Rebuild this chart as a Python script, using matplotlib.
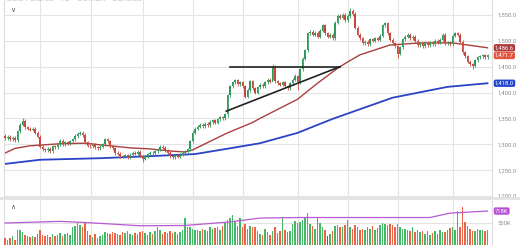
import matplotlib
matplotlib.use("Agg")
import matplotlib.pyplot as plt
import matplotlib.transforms as mtransforms
import numpy as np

plt.rcParams["font.family"] = ["Roboto", "DejaVu Sans"]

# daily closes (gold)
closes = [
    1312, 1315, 1310, 1313, 1308, 1325, 1338, 1345, 1333, 1330,
    1328, 1330, 1322, 1315, 1295, 1290, 1288, 1291, 1287, 1296,
    1294, 1300, 1307, 1300, 1304, 1302, 1306, 1310, 1316, 1320,
    1322, 1318, 1304, 1297, 1296, 1299, 1294, 1292, 1295, 1300,
    1310, 1306, 1296, 1292, 1283, 1282, 1277, 1276, 1279, 1274,
    1280, 1284, 1282, 1285, 1278, 1272, 1277, 1281, 1284, 1283,
    1286, 1290, 1295, 1293, 1288, 1284, 1277, 1275, 1279, 1276,
    1280, 1283, 1286, 1290, 1306, 1322, 1330, 1334, 1338, 1335,
    1340, 1337, 1343, 1346, 1342, 1348, 1352, 1350, 1358, 1395,
    1412, 1420, 1424, 1416, 1420, 1412, 1392, 1405, 1422, 1408,
    1400, 1410, 1415, 1412, 1420, 1425, 1421, 1450, 1422, 1418,
    1415, 1420, 1412, 1408, 1418, 1425, 1432, 1420, 1445, 1465,
    1482, 1515, 1518, 1512, 1516, 1508, 1520, 1530, 1515, 1508,
    1512, 1505, 1535, 1548, 1545, 1550, 1540, 1548, 1558, 1552,
    1525, 1512, 1505, 1495, 1498, 1494, 1503, 1500, 1505, 1502,
    1510, 1530, 1534, 1515, 1502, 1495, 1490, 1475, 1488, 1503,
    1508, 1512, 1505, 1508, 1500, 1492, 1495, 1490, 1496, 1492,
    1497, 1494, 1500, 1496, 1502, 1512, 1495, 1497, 1494, 1510,
    1515, 1512, 1498, 1478, 1470, 1460, 1455, 1452, 1462, 1468,
    1470, 1472, 1468, 1471.7,
]
first_open = 1316

# notable wick extremes {index: (high, low)}
wick_extremes = {7: (1351, 1336), 55: (1280, 1265), 89: (1398, 1352),
                 107: (1456, 1424), 138: (1563, 1545), 157: (1492, 1466),
                 187: (1458, 1446), 117: (1434, 1405)}

# volume in thousands
volumes = [
    220, 190, 230, 260, 200, 370, 380, 340, 290, 260,
    250, 270, 240, 300, 370, 290, 260, 280, 250, 300,
    270, 290, 310, 260, 300, 320, 280, 430, 450, 500,
    470, 420, 520, 350, 280, 250, 300, 230, 260, 290,
    330, 310, 300, 340, 320, 300, 290, 330, 310, 350,
    300, 280, 320, 300, 340, 360, 310, 290, 330, 300,
    350, 430, 380, 300, 340, 320, 360, 310, 330, 300,
    340, 380, 590, 420, 430, 400, 370, 380, 350, 400,
    380, 360, 420, 390, 410, 430, 380, 450, 500, 555,
    600, 645, 520, 440, 600, 420, 480, 400, 450, 420,
    430, 350, 300, 280, 400, 330, 280, 360, 430, 320,
    350, 610, 380, 330, 360, 480, 540, 500, 520, 560,
    600, 680, 480, 440, 400, 600, 500, 420, 380, 270,
    300, 360, 450, 470, 430, 420, 460, 560, 420, 400,
    470, 430, 380, 400, 370, 420, 390, 440, 380, 410,
    470, 500, 480, 460, 490, 470, 420, 480, 430, 390,
    400, 380, 360, 420, 340, 380, 330, 360, 300, 350,
    290, 320, 360, 300, 380, 340, 330, 370, 410, 420,
    380, 720, 420, 800, 520, 440, 390, 360, 350, 400,
    370, 380, 360, 380,
]
highlight_bar = 129

# moving averages (index, value)
ma50_idx = [0, 4, 10, 22, 32, 42, 50, 58, 66, 72, 75, 89, 99, 102, 117, 125, 133, 137, 142, 154, 166, 179, 185, 193]
ma50_val = [1283, 1292, 1297, 1301, 1302, 1297, 1293, 1291, 1287, 1285, 1289, 1322, 1342, 1350, 1387, 1418, 1447, 1459, 1473, 1492, 1496, 1496, 1492, 1486.6]
ma200_idx = [0, 14, 38, 58, 76, 91, 102, 117, 131, 155, 177, 193]
ma200_val = [1262, 1270, 1273, 1277, 1281, 1293, 1302, 1322, 1349, 1390, 1411, 1418]
volma_idx = [0, 22, 32, 54, 72, 90, 102, 118, 155, 170, 178, 193]
volma_val = [500, 530, 510, 450, 455, 520, 590, 600, 600, 600, 680, 718]

# drawn trend lines
resist_x = [90, 134]
resist_y = [1450, 1450]
support_x = [88.5, 134]
support_y = [1364, 1450]

month_lines = [14, 34.5, 55, 75, 95, 117, 137, 157, 179]
price_ticks = [1200, 1250, 1300, 1350, 1400, 1450, 1500, 1550]

GREEN = "#2f9a5c"
RED = "#c9483c"
VGREEN = "#45b865"
VRED = "#ec6447"
GRID = "#e4e4e4"
TXT = "#8a8a8a"
FS = 4.2

n = len(closes)
idx = np.arange(n)
opens = [first_open] + closes[:-1]

W, H = 520, 245
fig = plt.figure(figsize=(W / 100, H / 100), dpi=100)
fig.patch.set_facecolor("white")

ax = fig.add_axes([4 / W, 48 / H, 488 / W, 197 / H])
axv = fig.add_axes([4 / W, 0, 488 / W, 46 / H], sharex=ax)

for a in (ax, axv):
    for s in ("top", "bottom"):
        a.spines[s].set_visible(False)
    for s in ("left", "right"):
        a.spines[s].set_color("#dcdcdc")
        a.spines[s].set_linewidth(0.8)
    for m in month_lines:
        a.axvline(m, color=GRID, lw=0.8, zorder=0)
    a.tick_params(axis="x", bottom=False, labelbottom=False)

for p in price_ticks:
    ax.axhline(p, color=GRID, lw=0.8, zorder=0)

# candles
for i in range(n):
    o, c = opens[i], closes[i]
    col = GREEN if c >= o else RED
    hi, lo = wick_extremes.get(i, (max(o, c) + 3, min(o, c) - 3))
    ax.vlines(i, lo, hi, color=col, lw=0.6, zorder=3)
    body = abs(c - o) if abs(c - o) > 1 else 1
    ax.bar(i, body, bottom=min(o, c), width=0.75, color=col, lw=0, zorder=4)

ax.plot(ma50_idx, ma50_val, color="#a8403e", lw=1.0, zorder=2)
ax.plot(ma200_idx, ma200_val, color="#2b43c4", lw=1.3, zorder=2)
ax.plot(resist_x, resist_y, color="#222222", lw=1.2, zorder=5)
ax.plot(support_x, support_y, color="#222222", lw=1.2, zorder=5)

ax.set_xlim(-0.4, 194.8)
ax.set_ylim(1198, 1579)
ax.set_yticks(price_ticks)
ax.set_yticklabels([f"{p:,.1f}" for p in price_ticks])
ax.yaxis.tick_right()
ax.tick_params(axis="y", length=0, pad=4, labelsize=FS, labelcolor=TXT)

trans = mtransforms.blended_transform_factory(ax.transAxes, ax.transData)
for val, txt, fc in [(1486.6, "1,486.6", "#b03b3b"), (1471.7, "1,471.7", "#e5553f"),
                     (1418.0, "1,418.0", "#2446cc")]:
    ax.text(1.006, val, txt, transform=trans, fontsize=FS, color="white",
            va="center", ha="left",
            bbox=dict(boxstyle="round,pad=0.2,rounding_size=0.3", fc=fc, ec="none"))

# volume
vcols = []
for i in range(n):
    if i == highlight_bar:
        vcols.append("#3c5bd6")
    elif closes[i] >= opens[i]:
        vcols.append(VGREEN)
    else:
        vcols.append(VRED)
axv.bar(idx, volumes, width=0.75, color=vcols, lw=0, zorder=3)
axv.plot(volma_idx, volma_val, color="#b65ad0", lw=0.9, zorder=4)
axv.axhline(500, color=GRID, lw=0.8, zorder=0)
axv.set_ylim(100, 937)
axv.set_yticks([500])
axv.set_yticklabels(["500K"])
axv.yaxis.tick_right()
axv.tick_params(axis="y", length=0, pad=4, labelsize=FS, labelcolor=TXT)
vtrans = mtransforms.blended_transform_factory(axv.transAxes, axv.transData)
axv.text(1.006, 718, "718K", transform=vtrans, fontsize=FS, color="white",
         va="center", ha="left",
         bbox=dict(boxstyle="round,pad=0.2,rounding_size=0.3", fc="#b84fd4", ec="none"))

# panel separator and header bits
fig.add_artist(plt.Line2D([0, 1], [(H - 197.5) / H, (H - 197.5) / H],
                          color="#e2e2e2", lw=2, transform=fig.transFigure))
fig.text(6 / W, 1.005, "Gold Futures · 1D · COMEX · Candles", fontsize=6,
         color="#c4c4c4", va="center", ha="left")
fig.text(13 / W, 1 - 10 / H, r"$\vee$", fontsize=5, color="#555555",
         va="center", ha="center")
fig.text(13 / W, 1 - 206 / H, r"$\wedge$", fontsize=5, color="#555555",
         va="center", ha="center")

fig.savefig("out.png", dpi=100, facecolor="white")
